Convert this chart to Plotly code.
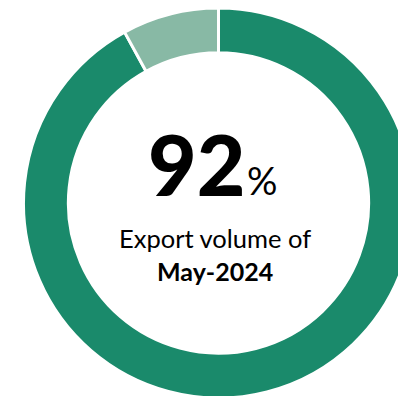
import plotly.graph_objects as go

# share of export volume
labels = ['Exported', 'Remaining']
values = [92, 8]
colors = ['#1a8a6b', '#88b9a5']

headline = '92'
period = 'May-2024'

W, H = 440, 410
# donut centre and outer radius in pixels (page is wider than the window, so it gets clipped)
cx, cy, R = 218.5, 203, 195


def px(x):
    return x / W


def py(y):
    return 1 - y / H


fig = go.Figure(go.Pie(
    labels=labels,
    values=values,
    hole=0.77,
    sort=False,
    direction='clockwise',
    rotation=0,
    textinfo='none',
    hoverinfo='label+percent',
    marker=dict(colors=colors, line=dict(color='white', width=3)),
    domain=dict(x=[px(cx - R), px(cx + R)], y=[py(cy + R), py(cy - R)]),
    showlegend=False,
))

fig.add_annotation(x=px(247), y=py(163), xref='paper', yref='paper', xanchor='right', yanchor='middle',
                   text=headline, showarrow=False,
                   font=dict(family='Lato', size=84, color='black', weight=900))
fig.add_annotation(x=px(245), y=py(180), xref='paper', yref='paper', xanchor='left', yanchor='middle',
                   text='%', showarrow=False,
                   font=dict(family='Lato', size=38, color='black'))
fig.add_annotation(x=px(215), y=py(238), xref='paper', yref='paper', xanchor='center', yanchor='middle',
                   text='Export volume of', showarrow=False,
                   font=dict(family='Lato', size=25.5, color='black'))
fig.add_annotation(x=px(215), y=py(271), xref='paper', yref='paper', xanchor='center', yanchor='middle',
                   text=f'<b>{period}</b>', showarrow=False,
                   font=dict(family='Lato', size=25, color='black'))

fig.update_layout(
    width=W, height=H,
    margin=dict(l=0, r=0, t=0, b=0),
    paper_bgcolor='white',
    plot_bgcolor='white',
)

fig.write_html('out.html', config={'displayModeBar': False},
               post_script="document.body.style.margin='0';document.body.style.overflow='hidden';")
